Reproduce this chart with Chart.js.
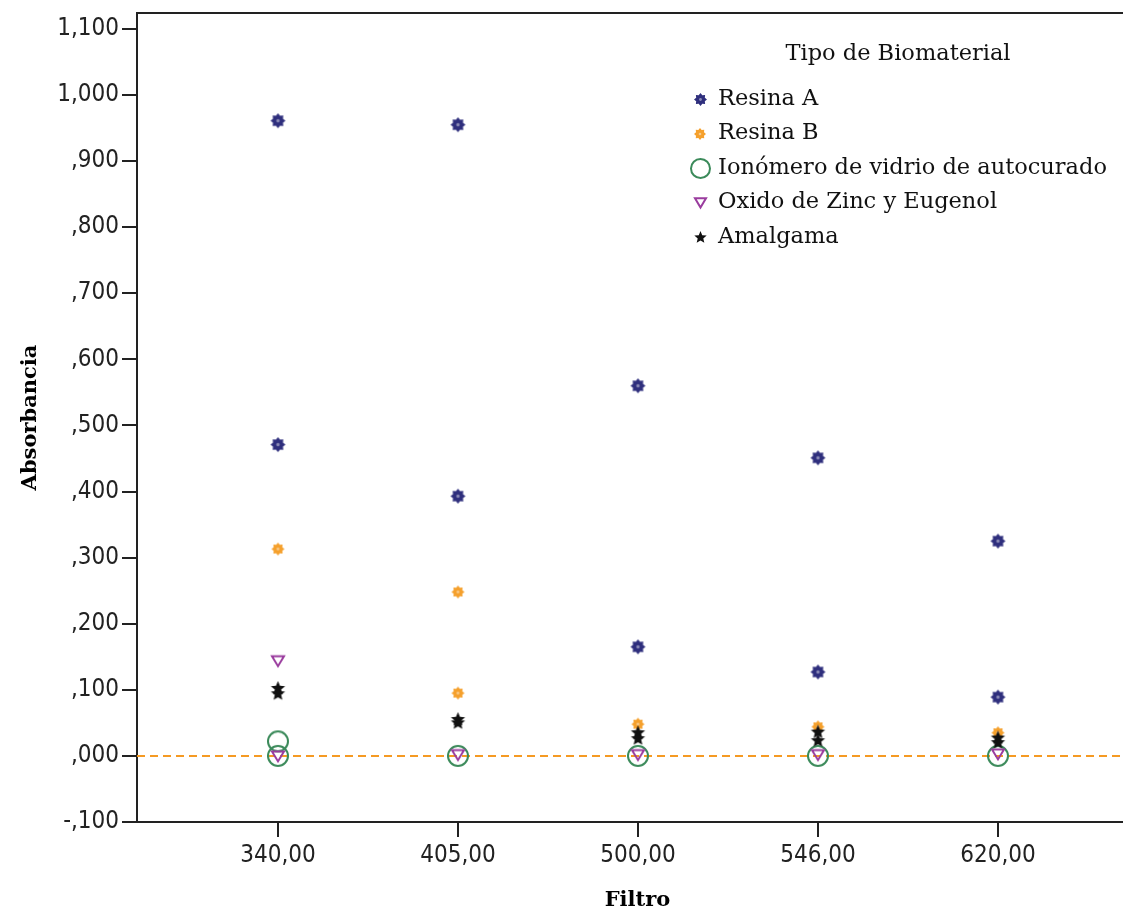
<!DOCTYPE html>
<html>
<head>
<meta charset="utf-8">
<script src="https://cdn.jsdelivr.net/npm/chart.js@4.4.1/dist/chart.umd.min.js"></script>
<style>
html, body { margin: 0; padding: 0; background: #fff; overflow: hidden; }
#wrap { width: 1143px; height: 913px; position: relative; }
</style>
</head>
<body>
<div id="wrap"><canvas id="chart"></canvas></div>
<script>
// categorías del eje X (filtro, nm)
const filtros = ['340,00', '405,00', '500,00', '546,00', '620,00'];
const yTicks = [-0.1, 0, 0.1, 0.2, 0.3, 0.4, 0.5, 0.6, 0.7, 0.8, 0.9, 1.0, 1.1];

// índice del filtro de cada punto + absorbancia
const resinaAPos = [0, 0, 1, 1, 2, 2, 3, 3, 4, 4];
const resinaAVal = [0.961, 0.471, 0.955, 0.393, 0.560, 0.165, 0.451, 0.127, 0.325, 0.089];
const resinaBPos = [0, 1, 1, 2, 3, 4];
const resinaBVal = [0.313, 0.248, 0.095, 0.048, 0.044, 0.035];
const ionomeroPos = [0, 0, 1, 2, 3, 4];
const ionomeroVal = [0.022, 0.000, 0.000, 0.000, 0.000, 0.000];
const oxidoPos = [0, 0, 1, 2, 3, 4];
const oxidoVal = [0.144, 0.000, 0.002, 0.002, 0.002, 0.003];
const amalgamaPos = [0, 0, 1, 1, 2, 2, 3, 3, 4, 4];
const amalgamaVal = [0.102, 0.094, 0.055, 0.050, 0.035, 0.026, 0.036, 0.023, 0.027, 0.020];

const serie = ['Resina A', 'Resina B', 'Ionómero de vidrio de autocurado', 'Oxido de Zinc y Eugenol', 'Amalgama'];

// --- marcadores dibujados a mano ---
function marcaEngranaje(color, r) {
	let c = document.createElement('canvas');
	c.width = c.height = Math.ceil(r * 2 + 2);
	let g = c.getContext('2d');
	let m = c.width / 2;
	g.fillStyle = color;
	g.beginPath();
	for (let i = 0; i < 16; i++) {
		let a = i * Math.PI / 8;
		let rr = (i % 2 === 0) ? r : r * 0.72;
		g.lineTo(m + rr * Math.cos(a), m + rr * Math.sin(a));
	}
	g.closePath();
	g.fill();
	g.fillStyle = 'rgba(255,255,255,0.45)';
	g.beginPath();
	g.arc(m, m, r * 0.22, 0, Math.PI * 2);
	g.fill();
	return c;
}

function marcaCirculo(color, r) {
	let c = document.createElement('canvas');
	c.width = c.height = Math.ceil(r * 2 + 4);
	let g = c.getContext('2d');
	g.strokeStyle = color;
	g.lineWidth = 2;
	g.beginPath();
	g.arc(c.width / 2, c.height / 2, r, 0, Math.PI * 2);
	g.stroke();
	return c;
}

function marcaTriangulo(color, w) {
	let c = document.createElement('canvas');
	c.width = c.height = Math.ceil(w + 4);
	let g = c.getContext('2d');
	let m = c.width / 2;
	g.strokeStyle = color;
	g.lineWidth = 2;
	g.beginPath();
	g.moveTo(m - w / 2, m - w * 0.38);
	g.lineTo(m + w / 2, m - w * 0.38);
	g.lineTo(m, m + w * 0.45);
	g.closePath();
	g.stroke();
	return c;
}

function marcaEstrella(color, r) {
	let c = document.createElement('canvas');
	c.width = c.height = Math.ceil(r * 2 + 2);
	let g = c.getContext('2d');
	let m = c.width / 2;
	g.fillStyle = color;
	g.beginPath();
	for (let i = 0; i < 10; i++) {
		let a = -Math.PI / 2 + i * Math.PI / 5;
		let rr = (i % 2 === 0) ? r : r * 0.45;
		g.lineTo(m + rr * Math.cos(a), m + rr * Math.sin(a));
	}
	g.closePath();
	g.fill();
	return c;
}

const marcas = [
	marcaEngranaje('#2f2f7d', 7.5),
	marcaEngranaje('#f5a02c', 6.5),
	marcaCirculo('#3b8a5a', 10),
	marcaTriangulo('#9a3c9e', 12),
	marcaEstrella('#111111', 7.5)
];
const marcasLeyenda = [
	marcaEngranaje('#2f2f7d', 6.5),
	marcaEngranaje('#f5a02c', 6),
	marcaCirculo('#3b8a5a', 9.5),
	marcaTriangulo('#9a3c9e', 11),
	marcaEstrella('#111111', 6.5)
];

function puntos(pos, val) {
	return pos.map((p, i) => ({ x: p, y: val[i] }));
}

const datos = [
	puntos(resinaAPos, resinaAVal),
	puntos(resinaBPos, resinaBVal),
	puntos(ionomeroPos, ionomeroVal),
	puntos(oxidoPos, oxidoVal),
	puntos(amalgamaPos, amalgamaVal)
];

// se dibujan al revés para que Resina A quede arriba
const datasets = serie.map((nombre, i) => ({
	label: nombre,
	data: datos[i],
	pointStyle: marcas[i],
	order: 4 - i
}));

function formatoAbs(v) {
	let s = Math.abs(v).toFixed(3).replace('.', ',');
	if (s.startsWith('0')) s = s.slice(1);
	return (v < 0 ? '-' : '') + s;
}

const fuenteTick = { family: '"DejaVu Sans Condensed", "DejaVu Sans", sans-serif', size: 24 };
const fuenteTitulo = { family: '"DejaVu Serif", serif', size: 21, weight: 'bold' };

// línea de referencia en 0, marco superior y leyenda
const extras = {
	id: 'extras',
	beforeDatasetsDraw(chart) {
		let ctx = chart.ctx;
		let area = chart.chartArea;
		let y0 = chart.scales.y.getPixelForValue(0);
		ctx.save();
		ctx.strokeStyle = '#f59a23';
		ctx.lineWidth = 2;
		ctx.setLineDash([8, 5]);
		ctx.beginPath();
		ctx.moveTo(area.left, y0);
		ctx.lineTo(area.right, y0);
		ctx.stroke();
		ctx.restore();
	},
	afterDraw(chart) {
		let ctx = chart.ctx;
		let area = chart.chartArea;
		ctx.save();
		ctx.strokeStyle = '#222';
		ctx.lineWidth = 2;
		ctx.beginPath();
		ctx.moveTo(area.left, area.top);
		ctx.lineTo(area.right, area.top);
		ctx.stroke();

		ctx.fillStyle = '#111';
		ctx.font = '22.5px "DejaVu Serif", serif';
		ctx.textAlign = 'center';
		ctx.textBaseline = 'middle';
		ctx.fillText('Tipo de Biomaterial', 898, 54);
		ctx.textAlign = 'left';
		chart.data.datasets.forEach((ds, i) => {
			let y = 99 + i * 34.5;
			let m = marcasLeyenda[i];
			ctx.drawImage(m, Math.round(700 - m.width / 2), Math.round(y - m.height / 2));
			ctx.fillText(ds.label, 718, y);
		});
		ctx.restore();
	}
};

new Chart(document.getElementById('chart'), {
	type: 'scatter',
	data: { datasets },
	options: {
		responsive: true,
		maintainAspectRatio: false,
		animation: false,
		events: [],
		layout: { padding: { top: 13, right: 0, left: 0, bottom: 0 } },
		plugins: {
			legend: { display: false },
			tooltip: { enabled: false }
		},
		scales: {
			x: {
				type: 'linear',
				min: -0.783,
				max: 4.778,
				afterBuildTicks: ax => { ax.ticks = filtros.map((f, i) => ({ value: i })); },
				afterFit: s => { s.height = 91; s.paddingLeft = 0; s.paddingRight = 0; },
				ticks: {
					callback: v => filtros[v],
					font: fuenteTick,
					color: '#222',
					padding: 4,
					maxRotation: 0,
					autoSkip: false
				},
				grid: { drawOnChartArea: false, tickLength: 15, color: '#222', lineWidth: 2 },
				border: { color: '#222', width: 2 },
				title: { display: true, text: 'Filtro', font: fuenteTitulo, color: '#000', padding: { top: 0, bottom: 0 } }
			},
			y: {
				min: -0.1,
				max: 1.124,
				afterBuildTicks: ax => { ax.ticks = yTicks.map(v => ({ value: v })); },
				afterFit: s => { s.width = 137; s.paddingTop = 0; s.paddingBottom = 0; },
				ticks: {
					callback: v => formatoAbs(v),
					font: fuenteTick,
					color: '#222',
					padding: 3
				},
				grid: { drawOnChartArea: false, tickLength: 15, color: '#222', lineWidth: 2 },
				border: { color: '#222', width: 2 },
				title: { display: true, text: 'Absorbancia', font: fuenteTitulo, color: '#000', padding: { top: 18, bottom: 0 } }
			}
		}
	},
	plugins: [extras]
});
</script>
</body>
</html>
